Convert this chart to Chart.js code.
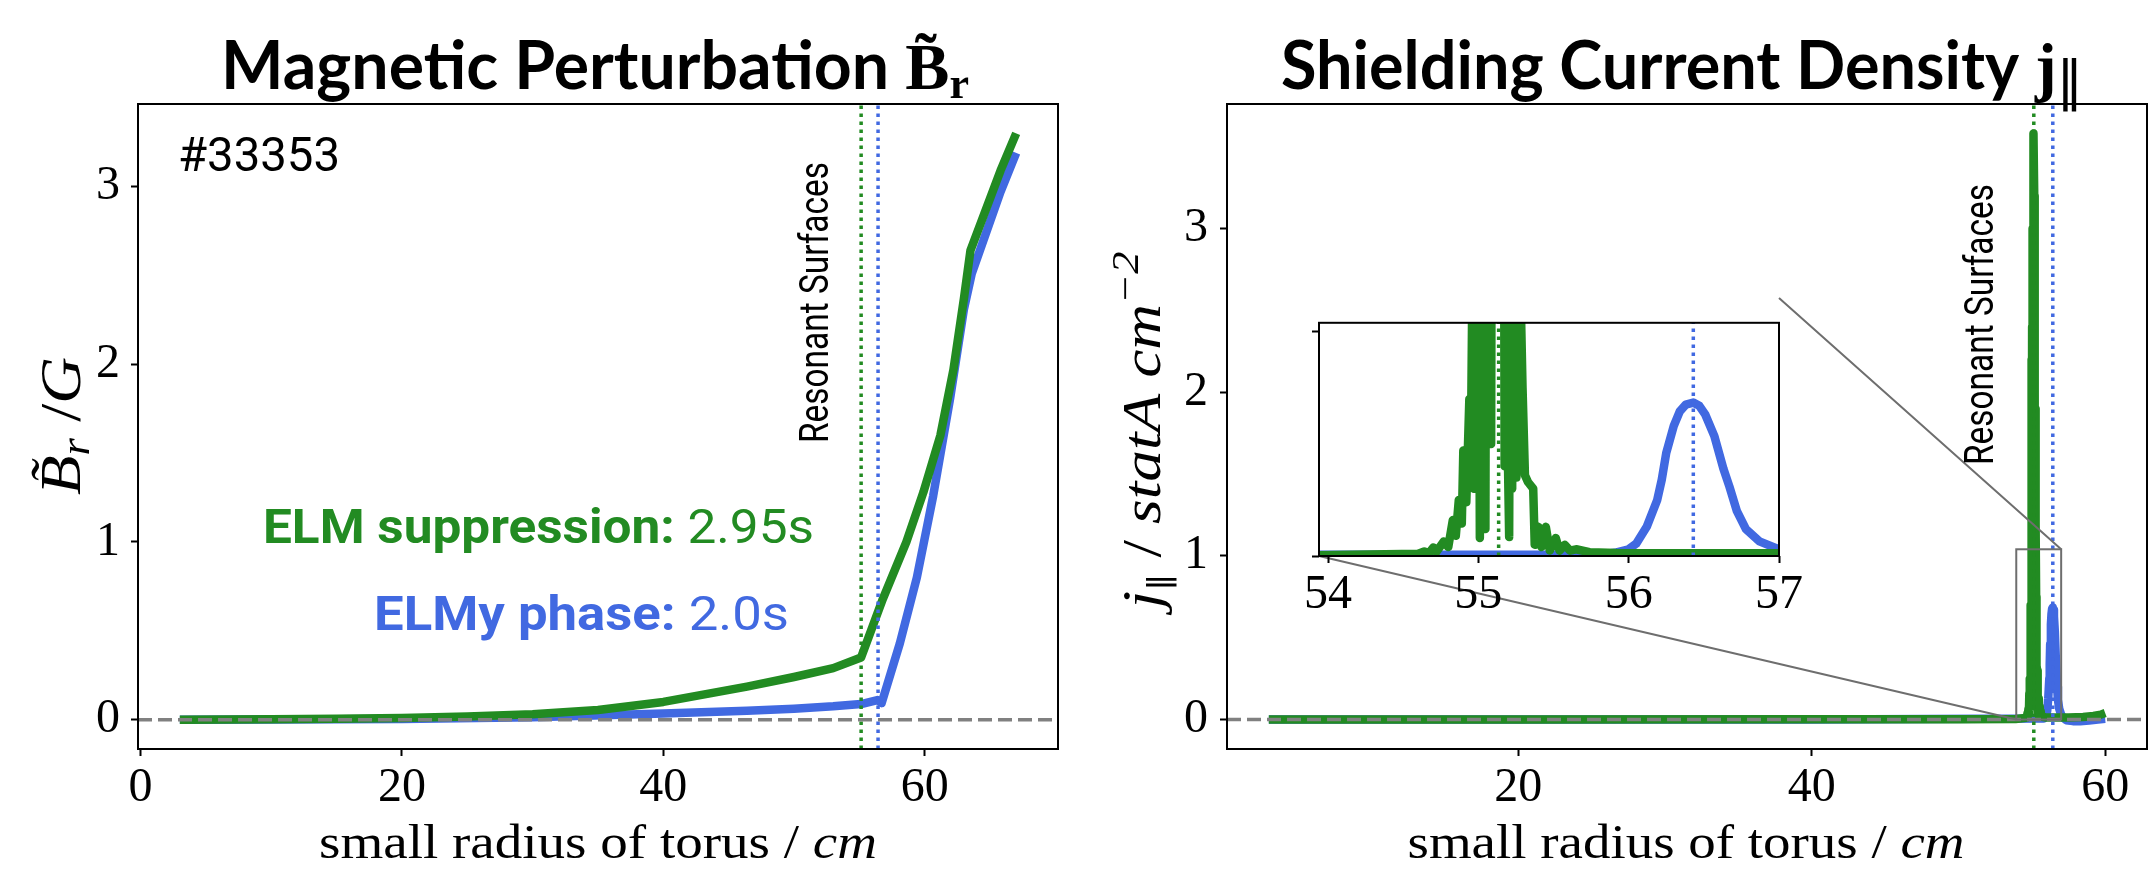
<!DOCTYPE html>
<html lang="en">
<head>
<meta charset="UTF-8">
<title>Magnetic Perturbation / Shielding Current Density</title>
<script src="https://cdn.jsdelivr.net/npm/chart.js"></script>
<style>
  body { margin: 0; background: #fff; }
  #wrap { position: relative; width: 2150px; height: 874px; overflow: hidden; }
  canvas { position: absolute; }
</style>
</head>
<body>
<div id="wrap">
  <canvas id="left" width="1075" height="874" style="left:0;top:0;width:1075px;height:874px"></canvas>
  <canvas id="right" width="1075" height="874" style="left:1075px;top:0;width:1075px;height:874px"></canvas>
  <canvas id="inset" width="540" height="340"></canvas>
</div>
<script>
// ---- data: B_r profile (left) ----
const brRadiusSupp = [3, 10, 15, 20, 25, 30, 35, 40, 46.4, 50, 53, 55.13, 56.8, 58.6, 59.9, 61.2, 62.2, 63.0, 63.5, 65.8, 67];
const brSupp       = [0, 0.002, 0.005, 0.01, 0.018, 0.03, 0.055, 0.1, 0.186, 0.24, 0.29, 0.35, 0.68, 1.0, 1.28, 1.6, 1.97, 2.37, 2.64, 3.09, 3.3];
const brRadiusElmy = [3, 10, 20, 30, 40, 46.4, 50, 53, 55.13, 56.38, 56.7, 58.1, 59.4, 60.65, 61.95, 63.0, 63.6, 65.8, 67];
const brElmy       = [0, 0.001, 0.004, 0.014, 0.035, 0.05, 0.062, 0.075, 0.088, 0.11, 0.093, 0.43, 0.8, 1.26, 1.81, 2.31, 2.51, 2.97, 3.19];

// ---- data: shielding current j_par (right) ----
const jRadiusSupp = [3, 20, 40, 50, 53.9, 54.6, 54.64, 54.67, 54.7, 54.72, 54.77, 54.8, 54.83, 54.85, 54.87,
  54.89, 54.9, 54.92, 54.94, 54.95, 54.96, 54.97, 54.98, 54.99, 55.0, 55.01, 55.02, 55.03, 55.04, 55.047,
  55.055, 55.065, 55.075, 55.085, 55.095, 55.13, 55.165, 55.175, 55.185, 55.195, 55.205, 55.215, 55.225, 55.235, 55.245,
  55.253, 55.262, 55.27, 55.28, 55.294, 55.31, 55.33, 55.365, 55.375, 55.4, 55.42, 55.449, 55.475, 55.515, 55.54,
  55.575, 55.61, 55.65, 55.74, 55.92, 56.5, 57.5, 58.5, 59.2, 59.7, 60];
const jSupp = [0, 0, 0.001, 0.002, 0.003, 0.01, 0.02, 0.012, 0.038, 0.018, 0.065, 0.04, 0.16, 0.09, 0.25,
  0.145, 0.47, 0.24, 0.7, 0.45, 1.2, 0.3, 1.8, 0.5, 2.2, 0.08, 2.4, 0.4, 2.6, 0.12,
  2.8, 0.6, 3.0, 0.5, 3.4, 3.58, 3.2, 0.4, 2.6, 0.5, 0.085, 2.0, 0.3, 1.9, 0.6,
  0.35, 1.5, 0.5, 1.2, 0.75, 0.36, 0.33, 0.3, 0.05, 0.13, 0.04, 0.13, 0.024, 0.08, 0.024,
  0.05, 0.024, 0.03, 0.017, 0.013, 0.012, 0.012, 0.015, 0.022, 0.03, 0.04];
const jRadiusElmy = [3, 20, 40, 55.8, 55.92, 56.0, 56.05, 56.12, 56.19, 56.22, 56.25, 56.3, 56.34, 56.38, 56.43,
  56.47, 56.51, 56.57, 56.63, 56.67, 56.72, 56.78, 56.87, 57.0, 57.15, 57.35, 57.8, 58.3, 58.9, 59.5, 60];
const jElmy = [0, 0, 0, 0.006, 0.016, 0.03, 0.055, 0.13, 0.25, 0.34, 0.46, 0.58, 0.645, 0.675, 0.684,
  0.67, 0.63, 0.535, 0.39, 0.31, 0.2, 0.12, 0.065, 0.03, 0.01, -0.004, -0.01, -0.01, -0.006, 0, 0.004];

const resonantSupp = 55.135;
const resonantElmy = 56.43;

// ---- axes ----
const leftXRange = [-0.2, 70.2];
const leftYRange = [-0.165, 3.465];
const rightXRange = [0.15, 62.85];
const rightYRange = [-0.18, 3.76];
const insetXRange = [53.94, 57];
const insetYRange = [0, 1.04];
const leftXTicks = [0, 20, 40, 60];
const rightXTicks = [20, 40, 60];
const yTicks = [0, 1, 2, 3];
const insetXTicks = [54, 55, 56, 57];
const insetYTicks = [0, 1];

const GREEN = '#228b22';
const BLUE = '#4169e1';
const SERIF = '"Liberation Serif", "DejaVu Serif", serif';
const SANS = 'Roboto, "DejaVu Sans", sans-serif';
const TITLE = 'Lato, Roboto, sans-serif';

// inset box on the page (px)
const INSET = { left: 1319, top: 298, width: 460, height: 258 };

function pts(xs, ys) { return xs.map((x, i) => ({ x: x, y: ys[i] })); }

function curve(xs, ys, color, order) {
  return { data: pts(xs, ys), showLine: true, borderColor: color, borderWidth: 8.5,
    pointRadius: 0, borderJoinStyle: 'round', borderCapStyle: 'butt', order: order };
}
function zeroLine(xr) {
  return { data: [{ x: xr[0], y: 0 }, { x: xr[1], y: 0 }], showLine: true, borderColor: '#808080',
    borderWidth: 3.5, borderDash: [14, 6], pointRadius: 0, order: 0 };
}
function resLine(x, yr, color) {
  return { data: [{ x: x, y: yr[0] }, { x: x, y: yr[1] }], showLine: true, borderColor: color,
    borderWidth: 3.5, borderDash: [3.5, 4.5], pointRadius: 0, order: 0 };
}

function axis(range, ticks, size, isX, pad, labels) {
  return {
    type: 'linear', min: range[0], max: range[1],
    afterBuildTicks: s => { s.ticks = ticks.map(v => ({ value: v })); },
    afterFit: s => { if (isX) s.height = size; else s.width = size; },
    grid: { drawOnChartArea: false, drawTicks: true, tickLength: 7, tickWidth: 2, tickColor: '#000' },
    border: { display: false },
    ticks: { color: '#000', font: { family: SERIF, size: 48 }, padding: pad, maxRotation: 0,
      autoSkip: false, callback: v => labels ? String(v) : '' }
  };
}

// text made of several runs, optionally squeezed to a target width
function drawRich(ctx, parts, x, y, o) {
  o = o || {};
  ctx.save();
  let w = 0;
  parts.forEach(p => { ctx.font = p.font; p.w = ctx.measureText(p.t).width; w += p.w; });
  const sx = o.width ? o.width / w : 1;
  ctx.translate(x, y);
  if (o.rotate) ctx.rotate(o.rotate);
  ctx.scale(sx, 1);
  let cx = o.align === 'center' ? -w / 2 : (o.align === 'right' ? -w : 0);
  ctx.textBaseline = 'alphabetic';
  ctx.textAlign = 'left';
  parts.forEach(p => {
    ctx.font = p.font;
    ctx.fillStyle = p.color || o.color || '#000';
    ctx.fillText(p.t, cx, p.dy || 0);
    cx += p.w;
  });
  ctx.restore();
}

function frame(chart) {
  const a = chart.chartArea, ctx = chart.ctx;
  ctx.save();
  ctx.strokeStyle = '#000';
  ctx.lineWidth = 2;
  ctx.strokeRect(a.left, a.top, a.right - a.left, a.bottom - a.top);
  ctx.restore();
}

function baseOptions(padding, xScale, yScale) {
  return {
    responsive: false, animation: false, devicePixelRatio: 1,
    layout: { padding: padding, autoPadding: false },
    plugins: { legend: { display: false }, tooltip: { enabled: false }, title: { display: false } },
    events: [],
    scales: { x: xScale, y: yScale },
    elements: { point: { radius: 0 }, line: { tension: 0 } }
  };
}

const leftDecor = {
  id: 'leftDecor',
  afterDraw(chart) {
    const ctx = chart.ctx;
    frame(chart);
    drawRich(ctx, [
      { t: 'Magnetic Perturbation ', font: 'bold 66px ' + TITLE },
      { t: 'B\u0303', font: 'bold 66px ' + SERIF },
      { t: 'r', font: 'bold 44px ' + SERIF, dy: 9 }
    ], 595, 89, { align: 'center', width: 748 });
    drawRich(ctx, [{ t: '#33353', font: '48px ' + SANS }], 178, 171, { width: 162 });
    drawRich(ctx, [
      { t: 'ELM suppression: ', font: 'bold 49px ' + SANS, color: GREEN },
      { t: '2.95s', font: '49px ' + SANS, color: GREEN }
    ], 263, 543, { width: 551 });
    drawRich(ctx, [
      { t: 'ELMy phase: ', font: 'bold 49px ' + SANS, color: BLUE },
      { t: '2.0s', font: '49px ' + SANS, color: BLUE }
    ], 374, 630, { width: 415 });
    drawRich(ctx, [{ t: 'Resonant Surfaces', font: '40px ' + SANS }], 828, 443,
      { rotate: -Math.PI / 2, width: 281 });
    drawRich(ctx, [
      { t: 'B\u0303', font: 'italic 58px ' + SERIF },
      { t: 'r', font: 'italic 40px ' + SERIF, dy: 9 },
      { t: ' /', font: '58px ' + SERIF },
      { t: 'G', font: 'italic 58px ' + SERIF }
    ], 80, 426, { rotate: -Math.PI / 2, align: 'center', width: 138 });
    drawRich(ctx, [
      { t: 'small radius of torus / ', font: '48px ' + SERIF },
      { t: 'cm', font: 'italic 48px ' + SERIF }
    ], 598, 858, { align: 'center', width: 558 });
  }
};

const rightDecor = {
  id: 'rightDecor',
  afterDraw(chart) {
    const ctx = chart.ctx;
    const xs = chart.scales.x, ys = chart.scales.y;
    frame(chart);
    // zoom marker and connectors to the inset
    const rx0 = xs.getPixelForValue(insetXRange[0]), rx1 = xs.getPixelForValue(insetXRange[1]);
    const ry0 = ys.getPixelForValue(insetYRange[0]), ry1 = ys.getPixelForValue(insetYRange[1]);
    const off = 1075;
    ctx.save();
    ctx.strokeStyle = '#6e6e6e';
    ctx.lineWidth = 2;
    ctx.strokeRect(rx0, ry1, rx1 - rx0, ry0 - ry1);
    ctx.beginPath();
    ctx.moveTo(INSET.left + INSET.width - off, INSET.top);
    ctx.lineTo(rx1, ry1);
    ctx.moveTo(INSET.left - off, INSET.top + INSET.height);
    ctx.lineTo(rx0, ry0);
    ctx.stroke();
    ctx.restore();

    drawRich(ctx, [
      { t: 'Shielding Current Density ', font: 'bold 66px ' + TITLE },
      { t: 'j', font: 'bold 66px ' + SERIF },
      { t: '\u2016', font: '54px "DejaVu Sans"', dy: 10 }
    ], 607, 89, { align: 'center', width: 802 });
    drawRich(ctx, [{ t: 'Resonant Surfaces', font: '40px ' + SANS }], 918, 465,
      { rotate: -Math.PI / 2, width: 281 });
    drawRich(ctx, [
      { t: 'j', font: 'italic 54px ' + SERIF },
      { t: '\u2016', font: '30px "DejaVu Sans"', dy: 9 },
      { t: ' / ', font: '54px ' + SERIF },
      { t: 'statA cm', font: 'italic 54px ' + SERIF },
      { t: '\u22122', font: 'italic 38px ' + SERIF, dy: -22 }
    ], 85, 430, { rotate: -Math.PI / 2, align: 'center', width: 357 });
    drawRich(ctx, [
      { t: 'small radius of torus / ', font: '48px ' + SERIF },
      { t: 'cm', font: 'italic 48px ' + SERIF }
    ], 611, 858, { align: 'center', width: 557 });
  }
};

const insetDecor = {
  id: 'insetDecor',
  beforeDraw(chart) {
    const a = chart.chartArea, ctx = chart.ctx;
    ctx.save();
    ctx.fillStyle = '#fff';
    ctx.fillRect(a.left, a.top, a.right - a.left, a.bottom - a.top);
    ctx.restore();
  },
  afterDraw(chart) { frame(chart); }
};

// ---- left panel ----
new Chart(document.getElementById('left'), {
  type: 'scatter',
  data: { datasets: [
    zeroLine(leftXRange),
    resLine(resonantSupp, leftYRange, GREEN),
    resLine(resonantElmy, leftYRange, BLUE),
    curve(brRadiusSupp, brSupp, GREEN, 1),
    curve(brRadiusElmy, brElmy, BLUE, 2)
  ] },
  options: baseOptions({ left: 0, top: 104, right: 17, bottom: 0 },
    axis(leftXRange, leftXTicks, 125, true, 4, true),
    axis(leftYRange, yTicks, 138, false, 11, true)),
  plugins: [leftDecor]
});

// ---- right panel ----
new Chart(document.getElementById('right'), {
  type: 'scatter',
  data: { datasets: [
    zeroLine(rightXRange),
    resLine(resonantSupp, rightYRange, GREEN),
    resLine(resonantElmy, rightYRange, BLUE),
    curve(jRadiusSupp, jSupp, GREEN, 1),
    curve(jRadiusElmy, jElmy, BLUE, 2)
  ] },
  options: baseOptions({ left: 0, top: 104, right: 3, bottom: 0 },
    axis(rightXRange, rightXTicks, 125, true, 4, true),
    axis(rightYRange, yTicks, 152, false, 12, true)),
  plugins: [rightDecor]
});

// ---- inset ----
const insetCanvas = document.getElementById('inset');
const iPadLeft = 40, iPadTop = 8;
insetCanvas.style.left = (INSET.left - iPadLeft) + 'px';
insetCanvas.style.top = (INSET.top - iPadTop) + 'px';
insetCanvas.style.width = insetCanvas.width + 'px';
insetCanvas.style.height = insetCanvas.height + 'px';
new Chart(insetCanvas, {
  type: 'scatter',
  data: { datasets: [
    resLine(resonantSupp, insetYRange, GREEN),
    resLine(resonantElmy, insetYRange, BLUE),
    curve(jRadiusSupp, jSupp, GREEN, 1),
    curve(jRadiusElmy, jElmy, BLUE, 2)
  ] },
  options: baseOptions({ left: 0, top: iPadTop, right: insetCanvas.width - iPadLeft - INSET.width, bottom: 0 },
    axis(insetXRange, insetXTicks, insetCanvas.height - iPadTop - INSET.height, true, 4, true),
    axis(insetYRange, insetYTicks, iPadLeft, false, 4, false)),
  plugins: [insetDecor]
});
</script>
</body>
</html>
